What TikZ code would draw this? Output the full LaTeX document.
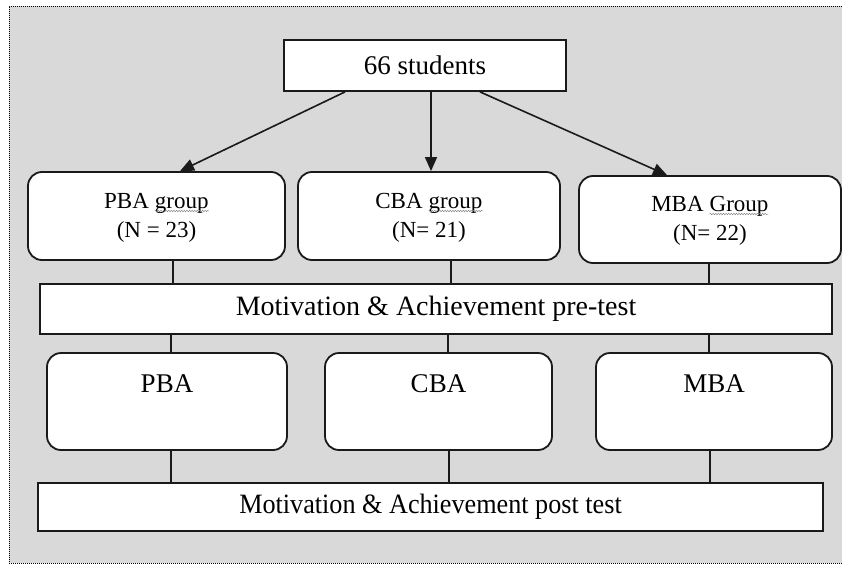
\documentclass[tikz,border=0pt]{standalone}
\usepackage{fontspec}
\setmainfont{Liberation Serif}
\usetikzlibrary{arrows.meta,decorations.pathmorphing}
\definecolor{bg}{HTML}{D9D9D9}
\definecolor{ln}{HTML}{1A1A1A}
\definecolor{sq}{HTML}{8A8A8A}
\newcommand\squigword[1]{\tikz[baseline=(w.base)]{\node[inner sep=0pt,outer sep=0pt] (w) {#1};
  \draw[sq,line width=0.5pt,decorate,decoration={snake,amplitude=0.8pt,segment length=2.6pt}]
   ([yshift=-3pt]w.base west) -- ([yshift=-3pt]w.base east);}}
\begin{document}
\begin{tikzpicture}[x=1pt,y=-1pt,
  box/.style={draw=ln,line width=1.8pt,fill=white,inner sep=0pt},
  rbox/.style={box,rounded corners=14pt},
  link/.style={draw=ln,line width=1.6pt},
  arr/.style={link,-{Triangle[length=14pt,width=12pt]}},
  lbl/.style={inner sep=0pt,anchor=base,text=black},
  fA/.style={font=\fontsize{27}{32}\selectfont},
  fB/.style={font=\fontsize{23}{28}\selectfont},
  fC/.style={font=\fontsize{28}{33}\selectfont}]
\useasboundingbox (0,0) rectangle (842,567);
\fill[white] (0,0) rectangle (842,567);
\fill[bg] (9,6) rectangle (842,563);
\draw[black,line width=0.8pt,dash pattern=on 1pt off 1pt] (842,6) -- (9,6) -- (9,563) -- (842,563);

% top
\node[box,fA,minimum width=282pt,minimum height=51pt] (top) at (425,65.5) {66 students};

% row 2
\node[rbox,minimum width=257pt,minimum height=88pt] (pg) at (156.5,216) {};
\node[rbox,minimum width=262pt,minimum height=88pt] (cg) at (429,216) {};
\node[rbox,minimum width=262pt,minimum height=87pt] (mg) at (710,219.5) {};
\node[lbl,fB] (pgt1) at (156.5,208) {PBA \squigword{group}};
\node[lbl,fB] (pgt2) at (156.5,237) {(N = 23)};
\node[lbl,fB] (cgt1) at (429,208) {CBA \squigword{group}};
\node[lbl,fB] (cgt2) at (429,237) {(N= 21)};
\node[lbl,fB] (mgt1) at (710,211) {MBA \squigword{Group}};
\node[lbl,fB] (mgt2) at (710,240) {(N= 22)};

% pre-test
\node[box,fC,minimum width=792pt,minimum height=50pt] (pre) at (436,309) {Motivation \& Achievement pre-test};

% row 3
\node[rbox,minimum width=240pt,minimum height=97pt] (r1) at (167,401.5) {};
\node[rbox,minimum width=227pt,minimum height=97pt] (r2) at (438.5,401.5) {};
\node[rbox,minimum width=236pt,minimum height=97pt] (r3) at (714,401.5) {};
\node[lbl,fA] (r1t) at (167,392) {PBA};
\node[lbl,fA] (r2t) at (438.5,392) {CBA};
\node[lbl,fA] (r3t) at (714,392) {MBA};

% post test
\node[box,fC,minimum width=785pt,minimum height=48pt] (post) at (430.5,507) {\scalebox{0.935}[1]{Motivation \& Achievement post test}};

% arrows
\draw[arr] ([xshift=-80pt]top.south) -- ([xshift=23.5pt]pg.north);
\draw[arr] ([xshift=6pt]top.south) -- ([xshift=6pt]top.south |- cg.north);
\draw[arr] ([xshift=55pt]top.south) -- ([xshift=-43pt]mg.north);

% connectors row2 -> pre
\draw[link] ([xshift=16.5pt]pg.south) -- ([xshift=16.5pt]pg.south |- pre.north);
\draw[link] ([xshift=22pt]cg.south) -- ([xshift=22pt]cg.south |- pre.north);
\draw[link] ([xshift=-1pt]mg.south) -- ([xshift=-1pt]mg.south |- pre.north);

% connectors pre -> row3
\draw[link] ([xshift=4pt]r1.north) -- ([xshift=4pt]r1.north |- pre.south);
\draw[link] ([xshift=9.5pt]r2.north) -- ([xshift=9.5pt]r2.north |- pre.south);
\draw[link] ([xshift=-5pt]r3.north) -- ([xshift=-5pt]r3.north |- pre.south);

% connectors row3 -> post
\draw[link] ([xshift=4pt]r1.south) -- ([xshift=4pt]r1.south |- post.north);
\draw[link] ([xshift=10.5pt]r2.south) -- ([xshift=10.5pt]r2.south |- post.north);
\draw[link] ([xshift=-4pt]r3.south) -- ([xshift=-4pt]r3.south |- post.north);
\end{tikzpicture}
\end{document}
